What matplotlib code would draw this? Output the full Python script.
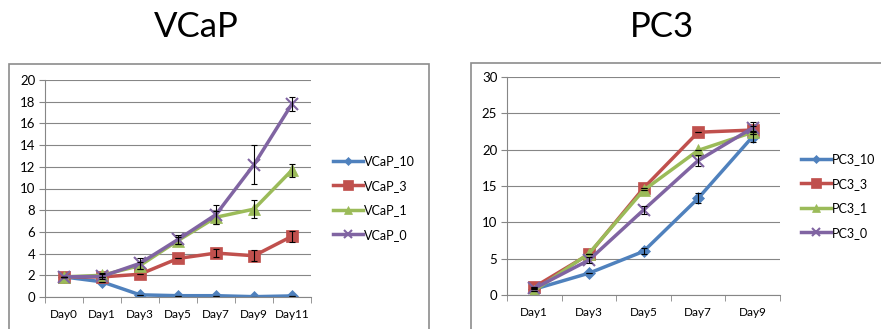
import numpy as np
import matplotlib.pyplot as plt
from matplotlib.patches import Rectangle

plt.rcParams['font.family'] = ['Lato', 'DejaVu Sans']

# Data
vcap_days = ['Day0', 'Day1', 'Day3', 'Day5', 'Day7', 'Day9', 'Day11']
vcap_10 = [1.85, 1.4, 0.2, 0.12, 0.12, 0.03, 0.1]
vcap_3 = [1.85, 1.85, 2.1, 3.55, 4.05, 3.8, 5.6]
vcap_1 = [1.85, 2.0, 2.9, 5.2, 7.35, 8.1, 11.7]
vcap_0 = [1.85, 1.9, 3.1, 5.3, 7.6, 12.2, 17.8]
vcap_10_err = [0, 0, 0, 0, 0, 0, 0]
vcap_3_err = [0, 0, 0, 0, 0.35, 0.5, 0.5]
vcap_1_err = [0, 0.2, 0.3, 0.3, 0.6, 0.8, 0.6]
vcap_0_err = [0, 0.2, 0.5, 0.4, 0.9, 1.8, 0.65]

pc3_days = ['Day1', 'Day3', 'Day5', 'Day7', 'Day9']
pc3_10 = [0.8, 3.0, 6.0, 13.3, 21.8]
pc3_3 = [1.1, 5.6, 14.7, 22.4, 22.7]
pc3_1 = [0.6, 5.7, 14.4, 19.9, 22.4]
pc3_0 = [0.9, 4.8, 11.7, 18.5, 23.0]
pc3_10_err = [0, 0, 0.4, 0.7, 0.8]
pc3_3_err = [0, 0, 0, 0, 0.5]
pc3_1_err = [0, 0, 0, 0, 0]
pc3_0_err = [0, 0.4, 0.5, 0.7, 0.8]

colors = ['#4F81BD', '#C0504D', '#9BBB59', '#8064A2']
markers = ['D', 's', '^', 'x']
msizes = [6, 9, 8, 8]

W, H = 881, 329
fig = plt.figure(figsize=(W / 100, H / 100), dpi=100)

def px_axes(x0, x1, y0, y1):
    return fig.add_axes([x0 / W, 1 - y1 / H, (x1 - x0) / W, (y1 - y0) / H])

def chart_frame(x0, y0, x1, y1):
    fig.patches.append(Rectangle((x0 / W, 1 - y1 / H), (x1 - x0) / W, (y1 - y0) / H,
                                 transform=fig.transFigure, fill=False,
                                 edgecolor='#8c8c8c', lw=1.2))

def draw_chart(ax, days, series, errs, names, ymax, ystep, leg_px):
    x = np.arange(len(days))
    for s, e, c, m, ms, n in zip(series, errs, colors, markers, msizes, names):
        ax.plot(x, s, color=c, lw=2.5, marker=m, ms=ms, mew=1.5 if m == 'x' else 0.5,
                mec=c, label=n)
    for s, e in zip(series, errs):
        ax.errorbar(x, s, yerr=e, fmt='none', ecolor='black', elinewidth=0.8,
                    capsize=2.5, capthick=0.8)
    ax.set_xlim(-0.5, len(days) - 0.5)
    ax.set_ylim(0, ymax)
    ax.set_yticks(np.arange(0, ymax + 1, ystep))
    ax.set_xticks(x)
    ax.set_xticklabels(days)
    ax.set_xticks(np.arange(-0.5, len(days), 1), minor=True)
    ax.tick_params(axis='x', which='major', length=0, labelsize=8.5, pad=9)
    ax.tick_params(axis='x', which='minor', length=4, color='#868686', direction='out')
    ax.tick_params(axis='y', length=4, color='#868686', labelsize=9.5, pad=3)
    ax.grid(axis='y', color='#868686', lw=0.8)
    ax.set_axisbelow(True)
    for sp in ['top', 'right']:
        ax.spines[sp].set_visible(False)
    for sp in ['left', 'bottom']:
        ax.spines[sp].set_color('#868686')
    ax.legend(loc='center left', bbox_to_anchor=(leg_px[0] / W, 1 - leg_px[1] / H),
              bbox_transform=fig.transFigure, frameon=False, borderpad=0,
              borderaxespad=0, fontsize=9, handlelength=2.4, labelspacing=1.0,
              handletextpad=0.1, markerscale=0.75)

chart_frame(9, 64, 429, 340)
chart_frame(471, 63, 890, 340)

ax1 = px_axes(45, 311, 80, 297)
draw_chart(ax1, vcap_days, [vcap_10, vcap_3, vcap_1, vcap_0],
           [vcap_10_err, vcap_3_err, vcap_1_err, vcap_0_err],
           ['VCaP_10', 'VCaP_3', 'VCaP_1', 'VCaP_0'], 20, 2, (333, 198))

ax2 = px_axes(507, 780, 77, 295)
draw_chart(ax2, pc3_days, [pc3_10, pc3_3, pc3_1, pc3_0],
           [pc3_10_err, pc3_3_err, pc3_1_err, pc3_0_err],
           ['PC3_10', 'PC3_3', 'PC3_1', 'PC3_0'], 30, 5, (801, 196))

fig.text(196 / W, 1 - 27 / H, 'VCaP', fontsize=25, ha='center', va='center')
fig.text(662 / W, 1 - 27 / H, 'PC3', fontsize=25, ha='center', va='center')

fig.savefig('out.png', dpi=100)
